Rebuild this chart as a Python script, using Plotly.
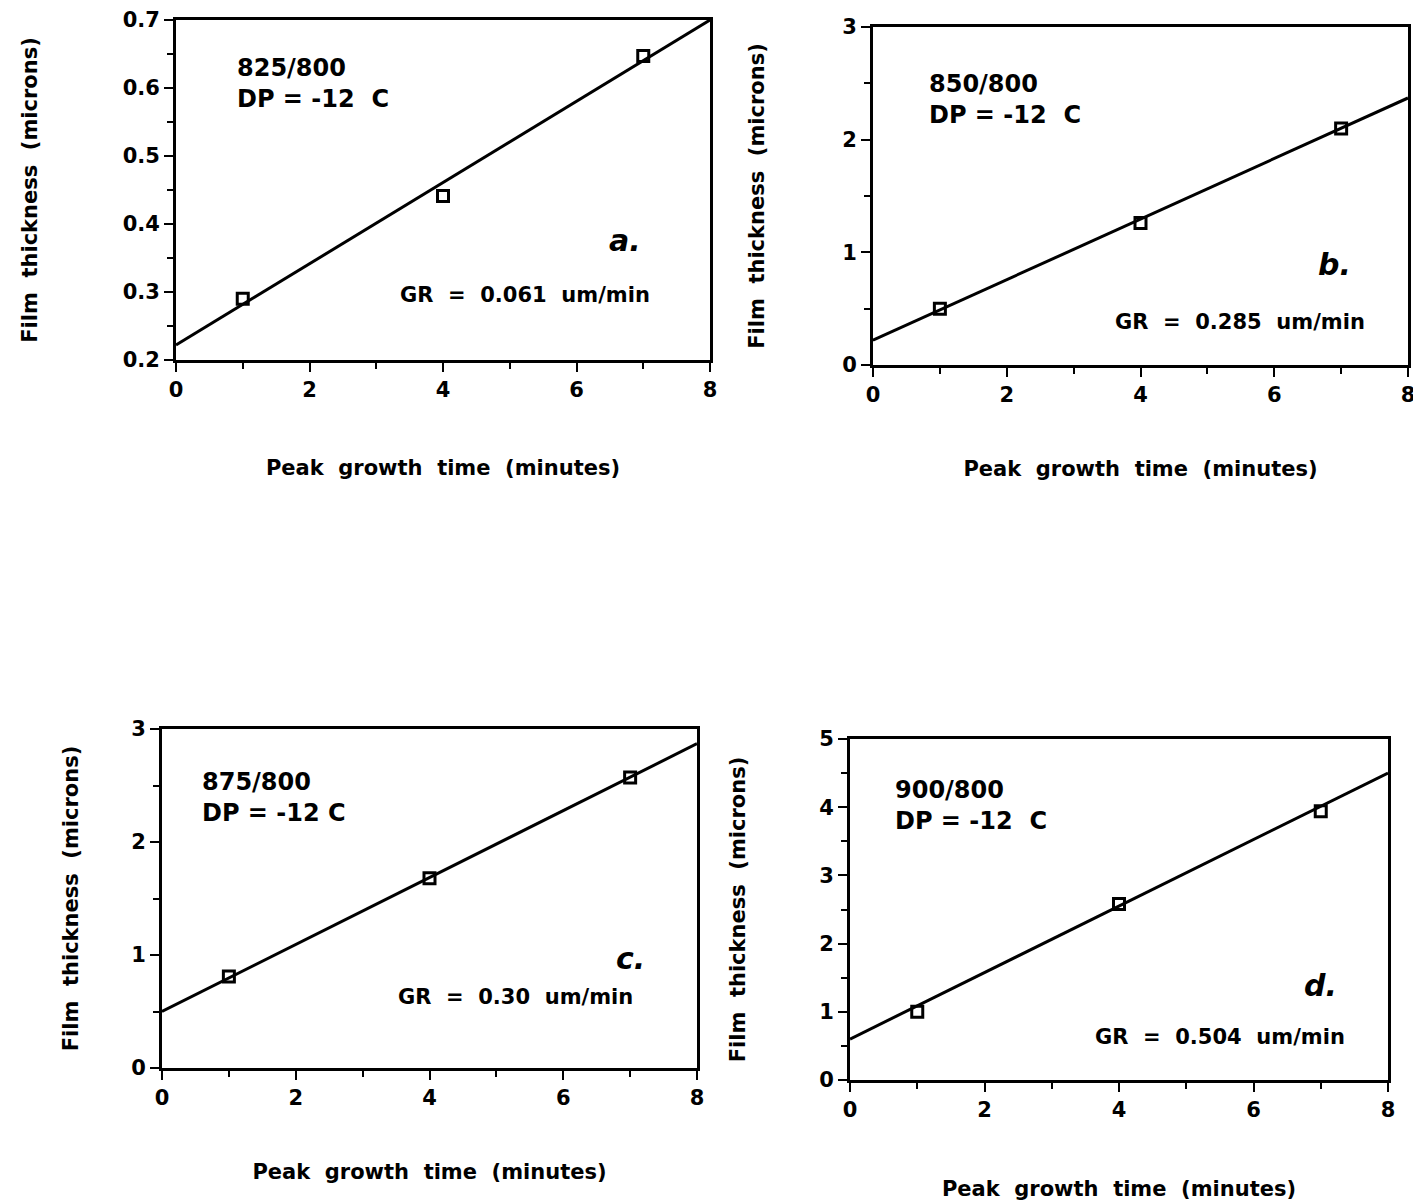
import plotly.graph_objects as go

# ---- data ----
time_min = [1, 4, 7]
fit_x = [0, 8]

a_thick = [0.29, 0.441, 0.647]
a_fit = [0.222, 0.70]
b_thick = [0.50, 1.26, 2.10]
b_fit = [0.22, 2.37]
c_thick = [0.81, 1.68, 2.57]
c_fit = [0.50, 2.87]
d_thick = [1.00, 2.58, 3.94]
d_fit = [0.60, 4.50]

labels = ["825/800", "850/800", "875/800", "900/800"]
dp_labels = ["DP = -12\u00a0\u00a0C", "DP = -12\u00a0\u00a0C", "DP = -12 C", "DP = -12\u00a0\u00a0C"]
panel_letters = ["a.", "b.", "c.", "d."]
gr_labels = ["GR\u00a0 =\u00a0 0.061\u00a0 um/min", "GR\u00a0 =\u00a0 0.285\u00a0 um/min",
             "GR\u00a0 =\u00a0 0.30\u00a0 um/min", "GR\u00a0 =\u00a0 0.504\u00a0 um/min"]

y_ranges = [[0.2, 0.7], [0, 3], [0, 3], [0, 5]]
y_dticks = [0.1, 1, 1, 1]
x_title = "Peak\u00a0 growth\u00a0 time\u00a0 (minutes)"
y_title = "Film\u00a0 thickness\u00a0 (microns)"

W, H = 1421, 1203
OFF = 8  # page body margin offset
# pixel boxes in the screenshot (left, right, top, bottom)
boxes = [(176, 710, 20, 360), (873, 1408, 27, 365), (162, 697, 729, 1068), (850, 1388, 739, 1080)]
y_standoffs = [80, 72, 47, 68]
x_standoffs = [60, 56, 56, 61]

# annotation positions (data coords)
lab_pos = [(0.88, 0.653), (0.81, 2.64), (0.57, 2.67), (0.64, 4.49)]
let_pos = [(6.73, 0.376), (6.9, 0.89), (7.0, 0.97), (6.99, 1.39)]
gr_pos = [(5.23, 0.296), (5.49, 0.38), (5.28, 0.63), (5.5, 0.63)]

thick = [a_thick, b_thick, c_thick, d_thick]
fits = [a_fit, b_fit, c_fit, d_fit]

FONT = "DejaVu Sans"
fig = go.Figure()
layout = dict(
    width=W, height=H, margin=dict(l=0, r=0, t=0, b=0, autoexpand=False),
    paper_bgcolor="white", plot_bgcolor="white", showlegend=False,
    font=dict(family=FONT, color="black"),
)
annotations = []
for i in range(4):
    n = "" if i == 0 else str(i + 1)
    xa, ya = "x" + n, "y" + n
    l, r, t, b = [v - OFF for v in boxes[i]]
    fig.add_trace(go.Scatter(x=fit_x, y=fits[i], mode="lines", xaxis=xa, yaxis=ya,
                             line=dict(color="black", width=3), cliponaxis=False))
    fig.add_trace(go.Scatter(x=time_min, y=thick[i], mode="markers", xaxis=xa, yaxis=ya,
                             marker=dict(symbol="square-open", size=11, color="black",
                                         line=dict(width=3, color="black")),
                             cliponaxis=False))
    common = dict(
        showline=True, linewidth=2.8, linecolor="black", mirror=True,
        ticks="outside", ticklen=9, tickwidth=2.4, tickcolor="black",
        showgrid=False, zeroline=False, automargin=False,
        tickfont=dict(family=FONT, size=21, color="black", weight="bold"),
    )
    layout["xaxis" + n] = dict(
        domain=[l / W, r / W], anchor=ya, range=[0, 8], dtick=2, tick0=0,
        minor=dict(dtick=1, ticks="outside", ticklen=6, tickwidth=2.2, tickcolor="black"),
        title=dict(text="<b>" + x_title + "</b>", standoff=x_standoffs[i],
                   font=dict(family=FONT, size=21, color="black")),
        **common,
    )
    layout["yaxis" + n] = dict(
        domain=[1 - b / H, 1 - t / H], anchor=xa, range=y_ranges[i], dtick=y_dticks[i],
        tick0=y_ranges[i][0],
        minor=dict(dtick=y_dticks[i] / 2, ticks="outside", ticklen=6, tickwidth=2.2, tickcolor="black"),
        title=dict(text="<b>" + y_title + "</b>", standoff=y_standoffs[i],
                   font=dict(family=FONT, size=21, color="black")),
        **common,
    )
    annotations.append(dict(x=lab_pos[i][0], y=lab_pos[i][1], xref=xa, yref=ya,
                            text="<b>" + labels[i] + "<br>" + dp_labels[i] + "</b>",
                            showarrow=False, xanchor="left", yanchor="top", align="left",
                            font=dict(family=FONT, size=24, color="black")))
    annotations.append(dict(x=let_pos[i][0], y=let_pos[i][1], xref=xa, yref=ya,
                            text="<b><i>" + panel_letters[i] + "</i></b>",
                            showarrow=False, xanchor="center", yanchor="middle",
                            font=dict(family="DejaVu Sans", size=30, color="black")))
    annotations.append(dict(x=gr_pos[i][0], y=gr_pos[i][1], xref=xa, yref=ya,
                            text="<b>" + gr_labels[i] + "</b>",
                            showarrow=False, xanchor="center", yanchor="middle",
                            font=dict(family=FONT, size=21, color="black")))
layout["annotations"] = annotations
fig.update_layout(**layout)
fig.write_html("out.html")
